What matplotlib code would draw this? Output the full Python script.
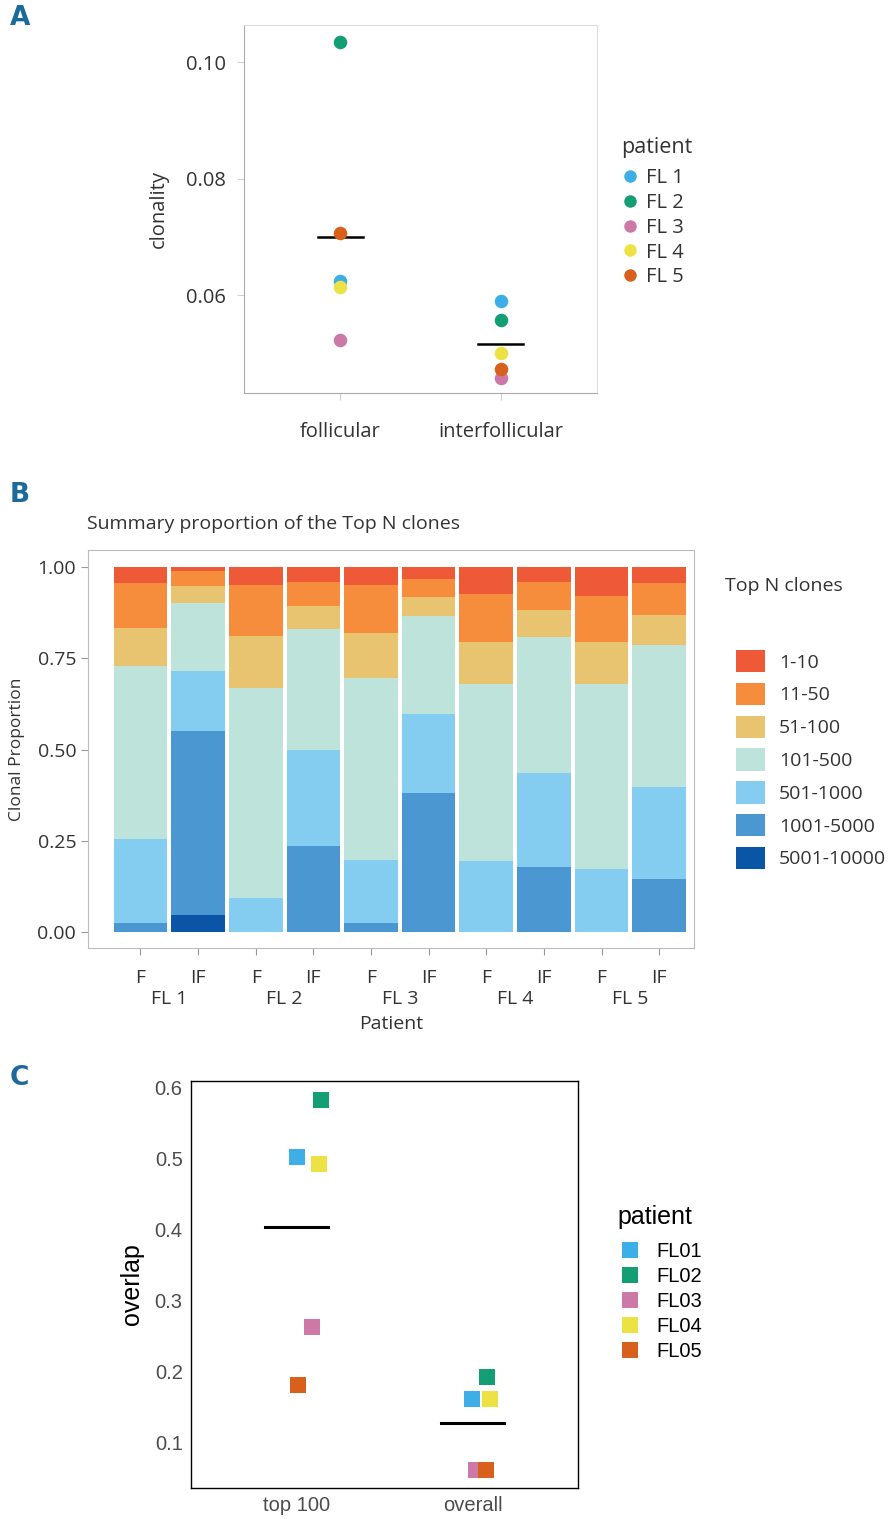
import numpy as np
import matplotlib.pyplot as plt
from matplotlib.patches import Patch
from matplotlib.lines import Line2D

plt.close('all')

# ---- panel A data: clonality per region ----
regions = ['follicular', 'interfollicular']
patients_a = ['FL 1', 'FL 2', 'FL 3', 'FL 4', 'FL 5']
clon_follicular = [0.0624, 0.1034, 0.0523, 0.0614, 0.0707]
clon_interfollicular = [0.0590, 0.0557, 0.0458, 0.0500, 0.0473]
patient_colors = ['#3DAEE6', '#149E74', '#CC79A7', '#EDE244', '#D9601C']

# ---- panel B data: proportion of top N clones (10 samples) ----
sample_labels = ['F', 'IF'] * 5
patients_b = ['FL 1', 'FL 2', 'FL 3', 'FL 4', 'FL 5']
clone_groups = ['1-10', '11-50', '51-100', '101-500', '501-1000', '1001-5000', '5001-10000']
top_1_10 = [0.044, 0.012, 0.051, 0.041, 0.051, 0.032, 0.074, 0.041, 0.079, 0.044]
top_11_50 = [0.123, 0.041, 0.139, 0.067, 0.130, 0.050, 0.132, 0.076, 0.127, 0.089]
top_51_100 = [0.104, 0.046, 0.142, 0.062, 0.124, 0.052, 0.114, 0.075, 0.114, 0.080]
top_101_500 = [0.475, 0.185, 0.574, 0.331, 0.498, 0.269, 0.485, 0.371, 0.506, 0.389]
top_501_1000 = [0.229, 0.165, 0.094, 0.264, 0.172, 0.217, 0.195, 0.257, 0.174, 0.252]
top_1001_5000 = [0.025, 0.5025, 0.0, 0.235, 0.025, 0.380, 0.0, 0.180, 0.0, 0.146]
top_5001_10000 = [0.0, 0.0485, 0.0, 0.0, 0.0, 0.0, 0.0, 0.0, 0.0, 0.0]
clone_colors = ['#EE5A38', '#F68D3C', '#E8C470', '#BDE3DA', '#84CDF0', '#4B97D2', '#0A55A6']

# ---- panel C data: overlap ----
overlap_groups = ['top 100', 'overall']
patients_c = ['FL01', 'FL02', 'FL03', 'FL04', 'FL05']
overlap_top100 = [0.502, 0.582, 0.262, 0.492, 0.181]
overlap_overall = [0.161, 0.192, 0.061, 0.161, 0.061]
jitter_top100 = [0.0, 0.14, 0.09, 0.13, 0.01]
jitter_overall = [0.0, 0.085, 0.02, 0.10, 0.075]

fig = plt.figure(figsize=(8.89, 15.19), dpi=100)
humanist = ['Open Sans', 'DejaVu Sans']
arial = ['Liberation Sans', 'DejaVu Sans']
label_font = ['Liberation Sans Narrow', 'DejaVu Sans']
label_color = '#1B6A9A'
txt = '#333333'


def fx(px):
    return px / 889


def fy(py):
    return 1 - py / 1519


# panel letters
for letter, ypos in [('A', 18), ('B', 495), ('C', 1078)]:
    fig.text(fx(10), fy(ypos), letter, family=label_font, weight='bold',
             fontsize=19, color=label_color, va='center', ha='left')

# A
#---------------------------------
axA = fig.add_axes([0.2745, 0.7413, 0.397, 0.2423])
xa = np.arange(1, 3)
for i, p in enumerate(patients_a):
    axA.scatter([xa[0], xa[1]], [clon_follicular[i], clon_interfollicular[i]],
                s=95, color=patient_colors[i], zorder=3, linewidths=0, label=p)
for xi, vals in zip(xa, [clon_follicular, clon_interfollicular]):
    m = np.mean(vals)
    axA.plot([xi - 0.14, xi + 0.14], [m, m], color='black', lw=1.8, zorder=2)
axA.set_xlim(0.4, 2.6)
axA.set_ylim(0.0432, 0.1064)
axA.set_yticks([0.06, 0.08, 0.10])
axA.set_yticklabels(['0.06', '0.08', '0.10'])
axA.set_xticks(xa)
axA.set_xticklabels(regions)
axA.tick_params(labelsize=14.5, colors='#d0d0d0', labelcolor=txt, length=5, width=0.8, pad=8)
for lab in axA.get_xticklabels() + axA.get_yticklabels():
    lab.set_family(humanist)
axA.tick_params(axis='x', pad=16)
axA.set_ylabel('clonality', family=humanist, fontsize=14.5, color=txt, labelpad=12)
for side in ['top', 'right']:
    axA.spines[side].set_color('#dddddd')
for side in ['left', 'bottom']:
    axA.spines[side].set_color('#aaaaaa')
fig.text(fx(621), fy(148), 'patient', family=humanist, fontsize=15.5, color=txt,
         va='center', ha='left')
handles_a = [Line2D([], [], marker='o', ls='', markersize=9, markeredgewidth=0,
                    color=c) for c in patient_colors]
legA = fig.legend(handles_a, patients_a, loc='upper left', bbox_to_anchor=(fx(622), fy(168)),
                  frameon=False, handlelength=0.8, handletextpad=0.4, labelspacing=0.24,
                  borderpad=0, borderaxespad=0, prop={'family': humanist, 'size': 14.5})
for t in legA.get_texts():
    t.set_color(txt)

# B
#---------------------------------
axB = fig.add_axes([0.099, 0.3759, 0.682, 0.262])
xb = np.arange(10)
series = [top_5001_10000, top_1001_5000, top_501_1000, top_101_500, top_51_100, top_11_50, top_1_10]
series_colors = clone_colors[::-1]
bottom = np.zeros(10)
for vals, col in zip(series, series_colors):
    axB.bar(xb, vals, bottom=bottom, width=0.93, color=col, linewidth=0)
    bottom += np.array(vals)
axB.set_xlim(-0.91, 9.61)
axB.set_ylim(-0.043, 1.046)
axB.set_yticks([0, 0.25, 0.5, 0.75, 1.0])
axB.set_yticklabels(['0.00', '0.25', '0.50', '0.75', '1.00'])
axB.set_xticks(xb)
axB.set_xticklabels(sample_labels)
axB.tick_params(labelsize=14, colors='#999999', labelcolor=txt, length=5, width=0.8)
axB.tick_params(axis='x', pad=10)
for lab in axB.get_xticklabels() + axB.get_yticklabels():
    lab.set_family(humanist)
for side in axB.spines:
    axB.spines[side].set_color('#bbbbbb')
for k, p in enumerate(patients_b):
    axB.annotate(p, xy=(2 * k + 0.5, 0), xycoords=('data', 'axes fraction'),
                 xytext=(0, -37), textcoords='offset points', ha='center', va='center',
                 family=humanist, fontsize=14, color=txt)
axB.annotate('Patient', xy=(0.5, 0), xycoords='axes fraction', xytext=(0, -55),
             textcoords='offset points', ha='center', va='center', family=humanist,
             fontsize=14, color=txt)
axB.set_ylabel('Clonal Proportion', family=humanist, fontsize=12.5, color=txt, labelpad=9)
fig.text(fx(87), fy(524), 'Summary proportion of the Top N clones', family=humanist,
         fontsize=14, color=txt, va='center', ha='left')
fig.text(fx(725), fy(586), 'Top N clones', family=humanist, fontsize=14,
         color=txt, va='center', ha='left')
handles_b = [Patch(facecolor=c, edgecolor='none') for c in clone_colors]
legB = fig.legend(handles_b, clone_groups, loc='upper left', bbox_to_anchor=(fx(736), fy(650)),
                  frameon=False, handlelength=1.5, handleheight=1.4, handletextpad=0.7,
                  labelspacing=0.53, borderpad=0, borderaxespad=0,
                  prop={'family': humanist, 'size': 14})
for t in legB.get_texts():
    t.set_color(txt)

# C
#---------------------------------
axC = fig.add_axes([0.2149, 0.0204, 0.4353, 0.2679])
xc = np.arange(1, 3)
for i, p in enumerate(patients_c):
    axC.scatter([xc[0] + jitter_top100[i], xc[1] + jitter_overall[i]],
                [overlap_top100[i], overlap_overall[i]], marker='s', s=135,
                color=patient_colors[i], linewidths=0, zorder=3)
for xi, vals in zip(xc, [overlap_top100, overlap_overall]):
    m = np.mean(vals)
    axC.plot([xi - 0.18, xi + 0.18], [m, m], color='black', lw=2.2, zorder=2)
axC.set_xlim(0.4, 2.6)
axC.set_ylim(0.036, 0.6085)
axC.set_yticks([0.1, 0.2, 0.3, 0.4, 0.5, 0.6])
axC.set_xticks(xc)
axC.set_xticklabels(overlap_groups)
axC.tick_params(length=0, labelsize=14.5, labelcolor='#4d4d4d', pad=6)
for lab in axC.get_xticklabels() + axC.get_yticklabels():
    lab.set_family(arial)
for side in axC.spines:
    axC.spines[side].set_linewidth(1.0)
axC.set_ylabel('overlap', family=arial, fontsize=18, labelpad=8)
fig.text(fx(617), fy(1217), 'patient', family=arial, fontsize=18, va='center', ha='left')
handles_c = [Line2D([], [], marker='s', ls='', markersize=11.5, markeredgewidth=0,
                    color=c) for c in patient_colors]
legC = fig.legend(handles_c, patients_c, loc='upper left', bbox_to_anchor=(fx(620), fy(1242)),
                  frameon=False, handlelength=1.0, handletextpad=0.8, labelspacing=0.3,
                  borderpad=0, borderaxespad=0, prop={'family': arial, 'size': 14.5})

fig.savefig('out.png', dpi=100)
